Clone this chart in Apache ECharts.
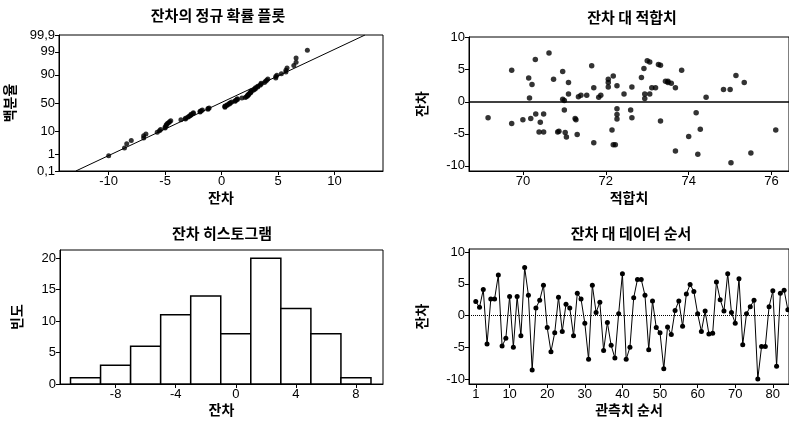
<!DOCTYPE html>
<html><head><meta charset="utf-8">
<script src="https://cdn.jsdelivr.net/npm/echarts@6/dist/echarts.min.js"></script>
<style>html,body{margin:0;padding:0;background:#fff}#c{width:789px;height:421px}</style>
</head><body><div id="c"></div>
<script>
// ---- data ----
const orderResid = [2.2,1.3,4.1,-4.5,2.6,2.6,6.4,-4.8,-3.6,3.0,-5.0,3.0,-3.2,7.6,3.2,-8.6,1.2,2.4,4.8,-1.9,
  -5.7,-2.7,2.9,-2.5,1.8,1.2,-3.2,3.5,2.6,-1.2,-6.9,4.8,0.5,2.1,-5.5,-1.1,-4.7,-6.7,0.3,6.6,
  -6.9,-5.0,2.8,5.7,5.7,3.2,-5.4,2.3,-1.9,-2.7,-8.4,-1.8,-3.0,0.8,2.3,-1.7,3.4,4.9,3.8,0.3,
  -2.5,0.7,-2.9,-2.8,5.3,2.5,0.7,6.6,0.5,-1.2,5.8,-4.6,0.3,1.4,2.4,-10.0,-4.9,-4.9,1.4,3.9,
  -8.0,3.5,4.0,0.9];
const fitValues = [69.16,69.73,69.73,70.0,70.14,70.16,70.19,70.22,70.30,70.31,
  70.42,70.39,70.50,70.50,70.63,70.74,70.84,70.87,70.96,70.96,
  71.0,71.02,71.05,71.1,71.1,71.26,71.28,71.31,71.34,71.4,
  71.54,71.66,71.71,71.71,71.83,71.88,72.06,72.06,72.18,72.15,
  72.18,72.23,72.27,72.27,72.27,72.27,72.44,72.6,72.63,72.63,
  72.86,72.92,72.94,72.94,73.0,73.06,73.06,73.11,73.2,73.27,
  73.32,73.32,73.44,73.5,73.58,73.68,73.68,73.83,74.0,74.18,
  74.22,74.28,74.42,74.84,75.0,75.02,75.14,75.34,75.5,76.1,72.06,73.5,71.0];
const fitResid = [-2.5,4.9,-3.4,-2.8,3.7,0.6,-2.6,2.7,6.6,-1.9,
  -3.2,-4.7,-4.7,-1.9,7.6,3.5,-4.7,-4.6,4.7,0.4,
  -1.3,-4.8,-5.5,3.0,1.2,-2.6,-2.8,-5.1,0.8,1.0,
  1.0,5.6,-6.4,2.2,0.7,1.0,3.5,2.3,4.0,-4.4,
  -6.7,-6.7,-1.1,-2.0,-2.7,2.5,1.2,-1.3,2.3,-2.5,
  3.8,5.2,1.2,0.5,6.4,6.2,1.2,2.2,2.2,5.8,
  5.7,-3.0,3.2,3.0,2.9,2.2,-7.7,4.9,-5.4,-1.7,
  -8.2,-4.3,0.7,1.9,1.9,-9.5,4.1,3.0,-8.0,-4.4,3.0,3.2,0.2];
const histCenters = [-10,-8,-6,-4,-2,0,2,4,6,8];
const histCounts = [1,3,6,11,14,8,20,12,8,1];
const histBinWidth = 2;
const probTicks = [0.1,1,10,50,90,99,99.9];
const probTickLabels = ['0,1','1','10','50','90','99','99,9'];
const probLineX = [-12.9,12.7];
const probLineP = [0.1,99.9];
const probXTicks = [-10,-5,0,5,10];
const fitXTicks = [70,72,74,76];
const residTicks = [-10,-5,0,5,10];
const histXTicks = [-8,-4,0,4,8];
const histYTicks = [0,5,10,15,20];
const orderXTicks = [1,10,20,30,40,50,60,70,80];

// inverse normal CDF (Acklam)
function invNorm(p){
  const a=[-3.969683028665376e+01,2.209460984245205e+02,-2.759285104469687e+02,1.383577518672690e+02,-3.066479806614716e+01,2.506628277459239e+00];
  const b=[-5.447609879822406e+01,1.615858368580409e+02,-1.556989798598866e+02,6.680131188771720e+01,-1.328068155288572e+01];
  const c=[-7.784894002430293e-03,-3.223964580411365e-01,-2.400758277161838e+00,-2.549732539343734e+00,4.374664141464968e+00,2.938163982698783e+00];
  const d=[7.784695709041462e-03,3.224671290700398e-01,2.445134137142996e+00,3.754408661907416e+00];
  const pl=0.02425; let q,r;
  if(p<pl){q=Math.sqrt(-2*Math.log(p));return (((((c[0]*q+c[1])*q+c[2])*q+c[3])*q+c[4])*q+c[5])/((((d[0]*q+d[1])*q+d[2])*q+d[3])*q+1);}
  if(p<=1-pl){q=p-0.5;r=q*q;return (((((a[0]*r+a[1])*r+a[2])*r+a[3])*r+a[4])*r+a[5])*q/(((((b[0]*r+b[1])*r+b[2])*r+b[3])*r+b[4])*r+1);}
  q=Math.sqrt(-2*Math.log(1-p));return -(((((c[0]*q+c[1])*q+c[2])*q+c[3])*q+c[4])*q+c[5])/((((d[0]*q+d[1])*q+d[2])*q+d[3])*q+1);
}
const probZ = probTicks.map(p=>invNorm(p/100));
const sorted = orderResid.slice().sort((x,y)=>x-y);
const nRes = sorted.length;
const probPoints = sorted.map((v,i)=>[v, invNorm((i+1-0.3)/(nRes+0.4))]);
const zMin = invNorm(0.001)-0.002, zMax = invNorm(0.999)+0.002;

const KR = '"Noto Sans CJK KR"';
const NUM = '"Liberation Sans", Arial, sans-serif';
function ax(dim, gi, min, max, ticks, name, gap, fmt){
  const o = {type:'value', gridIndex:gi, min, max, name, nameLocation:'middle', nameGap:gap,
    nameTextStyle:{fontFamily:KR, fontWeight:'bold', fontSize:14, color:'#000'},
    axisLine:{show:true, onZero:false, lineStyle:{color:'#000', width:1}},
    axisTick:{show:true, length:4, inside:false, customValues:ticks, lineStyle:{color:'#000'}},
    axisLabel:{show:true, customValues:ticks, showMinLabel:true, showMaxLabel:true, hideOverlap:false, color:'#000', fontSize:13, fontFamily:NUM, margin:4},
    splitLine:{show:false}};
  if(fmt) o.axisLabel.formatter = fmt;
  if(dim==='y'){o.nameRotate = 90;}
  return o;
}
const grid = (l,t,w,h)=>({left:l, top:t, width:w, height:h, show:true, borderColor:'#000', borderWidth:1, containLabel:false});
const chart = echarts.init(document.getElementById('c'));
const T = (txt,x,y)=>({type:'text', x, y, style:{text:txt, font:'bold 15px '+KR, fill:'#000', align:'center', verticalAlign:'middle', textAlign:'center', textVerticalAlign:'middle'}});
chart.setOption({
  animation:false,
  backgroundColor:'#fff',
  grid:[grid(59,35,324,136), grid(469,37,321,134), grid(60,250,323,134), grid(469,249,321,135)],
  xAxis:[
    ax('x',0,-14.4,14.3,probXTicks,'잔차',20),
    ax('x',1,68.7,76.42,fitXTicks,'적합치',20),
    ax('x',2,-11.7,9.8,histXTicks,'잔차',19),
    ax('x',3,-0.8,84.3,orderXTicks,'관측치 순서',19)
  ],
  yAxis:[
    ax('y',0,zMin,zMax,probZ,'백분율',42,(v)=>{const i=probZ.findIndex(z=>Math.abs(z-v)<1e-6);return i>=0?probTickLabels[i]:'';}),
    ax('y',1,-10.8,10.1,residTicks,'잔차',40),
    ax('y',2,0,21.3,histYTicks,'빈도',36),
    ax('y',3,-10.8,10.5,residTicks,'잔차',40)
  ],
  graphic:[
    T('잔차의 정규 확률 플롯',218,15),
    T('잔차 대 적합치',632,17),
    T('잔차 히스토그램',222,233),
    T('잔차 대 데이터 순서',631,233)
  ],
  series:[
    {type:'line', xAxisIndex:0, yAxisIndex:0, data:[[probLineX[0],invNorm(probLineP[0]/100)],[probLineX[1],invNorm(probLineP[1]/100)]],
      showSymbol:false, lineStyle:{color:'#000', width:1}, silent:true},
    {type:'scatter', xAxisIndex:0, yAxisIndex:0, data:probPoints, symbolSize:5, itemStyle:{color:'#000'}},
    {type:'scatter', xAxisIndex:1, yAxisIndex:1, data:fitValues.map((f,i)=>[f,fitResid[i]]), symbolSize:5.5, itemStyle:{color:'#000'},
      markLine:{silent:true, symbol:'none', label:{show:false}, lineStyle:{color:'#000', type:'solid', width:1.5}, data:[{yAxis:0}]}},
    {type:'custom', xAxisIndex:2, yAxisIndex:2, data:histCenters.map((c,i)=>[c,histCounts[i]]), encode:{x:0,y:1},
      renderItem:(params,api)=>{const c=api.value(0), n=api.value(1);
        const p0=api.coord([c-histBinWidth/2,n]), p1=api.coord([c+histBinWidth/2,0]);
        return {type:'rect', shape:{x:p0[0], y:p0[1], width:p1[0]-p0[0], height:p1[1]-p0[1]}, style:{fill:'#fff', stroke:'#000', lineWidth:1.5}};}},
    {type:'line', xAxisIndex:3, yAxisIndex:3, data:orderResid.map((v,i)=>[i+1,v]), symbol:'circle', symbolSize:5, showAllSymbol:true,
      lineStyle:{color:'#000', width:1}, itemStyle:{color:'#000'},
      markLine:{silent:true, symbol:'none', label:{show:false}, lineStyle:{color:'#000', type:'dotted', width:1}, data:[{yAxis:0}]}}
  ]
});
</script></body></html>
